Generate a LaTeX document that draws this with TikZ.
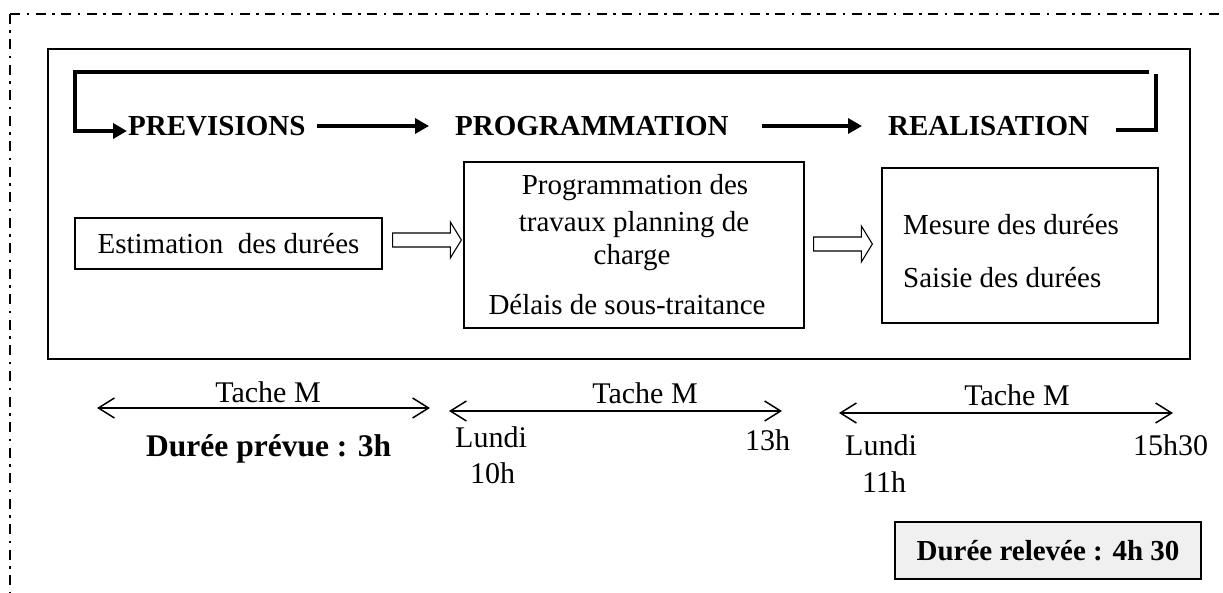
\documentclass[tikz,border=0pt]{standalone}
\usepackage{fontspec}
\setmainfont{Liberation Serif}
\usetikzlibrary{arrows.meta,calc}
\definecolor{boxgray}{RGB}{240,240,240}
\tikzset{
  txt/.style={inner sep=0pt,font=\fontsize{29}{34}\selectfont},
  ltxt/.style={inner sep=0pt,font=\fontsize{30}{35}\selectfont},
  btxt/.style={inner sep=0pt,font=\fontsize{29}{34}\selectfont\bfseries},
  frame/.style={draw,line width=1.4pt},
  boxnode/.style={draw,line width=1.3pt,rectangle,inner sep=0pt},
  loopline/.style={line width=3.6pt},
  flowarrow/.style={line width=3.3pt,-{Triangle[length=14pt,width=15pt]}},
  hollowarr/.style={draw,line width=1.1pt,fill=white,line join=miter},
  spanarrow/.style={line width=1.5pt,{Straight Barb[length=16pt,width=20pt]}-{Straight Barb[length=16pt,width=20pt]}},
  border/.style={line width=2pt,dash pattern=on 10pt off 6.5pt on 2.5pt off 6.5pt}
}
\newcommand\hollowarrow[2]{%
  \draw[hollowarr] ($(#1)+(0,-7)$) -- ($(#2)+(-11,-7)$) -- ($(#2)+(-11,-18)$)
    -- (#2) -- ($(#2)+(-11,18)$) -- ($(#2)+(-11,7)$) -- ($(#1)+(0,7)$) -- cycle;}
\begin{document}
\begin{tikzpicture}[x=1pt,y=-1pt]
\useasboundingbox (0,0) rectangle (1223,593);
\clip (0,0) rectangle (1223,593);

% dash-dot page border
\draw[border] (10,14) -- (1240,14);
\draw[border] (10,14) -- (10,610);

% main frame
\draw[frame] (48,49) rectangle (1190,359);

% phase titles
\node[btxt,anchor=base west] (prev) at (128,136) {PREVISIONS};
\node[btxt,anchor=base west] (prog) at (455,136) {PROGRAMMATION};
\node[btxt,anchor=base west] (real) at (888,136) {REALISATION};

\draw[flowarrow] ($(prev.base east)+(11,-10)$) -- ($(prog.base west)+(-26,-10)$);
\draw[flowarrow] ($(prog.base east)+(33,-10)$) -- ($(real.base west)+(-26,-10)$);

% feedback loop
\coordinate (looptop) at (1149,72);
\coordinate (loopcorner) at (75,72);
\draw[loopline,-{Triangle[length=14pt,width=15pt]}]
  (looptop) -- (loopcorner) -- ($(loopcorner |- prev.base west)+(0,-5)$) -- ($(prev.base west)+(-1,-5)$);
\coordinate (loopend) at (1156,74);
\draw[loopline] ($(real.base east)+(27,-6)$) -- ($(loopend |- real.base east)+(0,-6)$) -- (loopend);

% activity boxes
\node[boxnode,minimum width=307pt,minimum height=51pt] (est) at (228.5,243.5) {};
\node[txt] at (est.center) {Estimation\ \ des durées};

\node[boxnode,minimum width=340pt,minimum height=166pt] (pbox) at (634,245) {};
\node[txt,anchor=base] at (635,195) {Programmation des};
\node[txt,anchor=base] at (634,232) {travaux planning de};
\node[txt,anchor=base] at (632,265) {charge};
\node[txt,anchor=base] at (627,315) {Délais de sous-traitance};

\node[boxnode,minimum width=276pt,minimum height=155pt] (mes) at (1020,245.5) {};
\node[txt,anchor=base west] at (903,235) {Mesure des durées};
\node[txt,anchor=base west] at (903,288) {Saisie des durées};

\coordinate (h1s) at ($(est.east)+(10,-3.5)$);
\coordinate (h1e) at ($(pbox.west |- h1s)+(-2,0)$);
\hollowarrow{h1s}{h1e}
\coordinate (h2s) at ($(pbox.east)+(9,-1)$);
\coordinate (h2e) at ($(mes.west |- h2s)+(-9,0)$);
\hollowarrow{h2s}{h2e}

% time spans
\coordinate (s1l) at (97,408);  \coordinate (s1r) at (430,408);
\coordinate (s2l) at (449,411); \coordinate (s2r) at (782,411);
\coordinate (s3l) at (839,413); \coordinate (s3r) at (1173,413);
\draw[spanarrow] (s1l) -- (s1r);
\draw[spanarrow] (s2l) -- (s2r);
\draw[spanarrow] (s3l) -- (s3r);

\node[ltxt,anchor=base] (t1) at (268,402) {Tache M};
\node[ltxt,anchor=base] (t2) at (645,403) {Tache M};
\node[ltxt,anchor=base] (t3) at (1017,405) {Tache M};

\node[inner sep=0pt,font=\fontsize{31.5}{36}\selectfont\bfseries,anchor=base west] (dp) at (146,456) {Durée prévue : 3h};

\node[ltxt,anchor=base west] (l1) at (455,447) {Lundi};
\node[ltxt,anchor=base west] (h10) at (470,483) {10h};
\node[ltxt,anchor=base west] (h13) at (745,450) {13h};

\node[ltxt,anchor=base west] (l2) at (845,455) {Lundi};
\node[ltxt,anchor=base west] (h11) at (862,492) {11h};
\node[ltxt,anchor=base west] (h1530) at (1133,455) {15h30};

\node[boxnode,fill=boxgray,minimum width=306pt,minimum height=57pt,btxt] (dr) at (1048,550.5) {Durée relevée : 4h 30};
\end{tikzpicture}
\end{document}
